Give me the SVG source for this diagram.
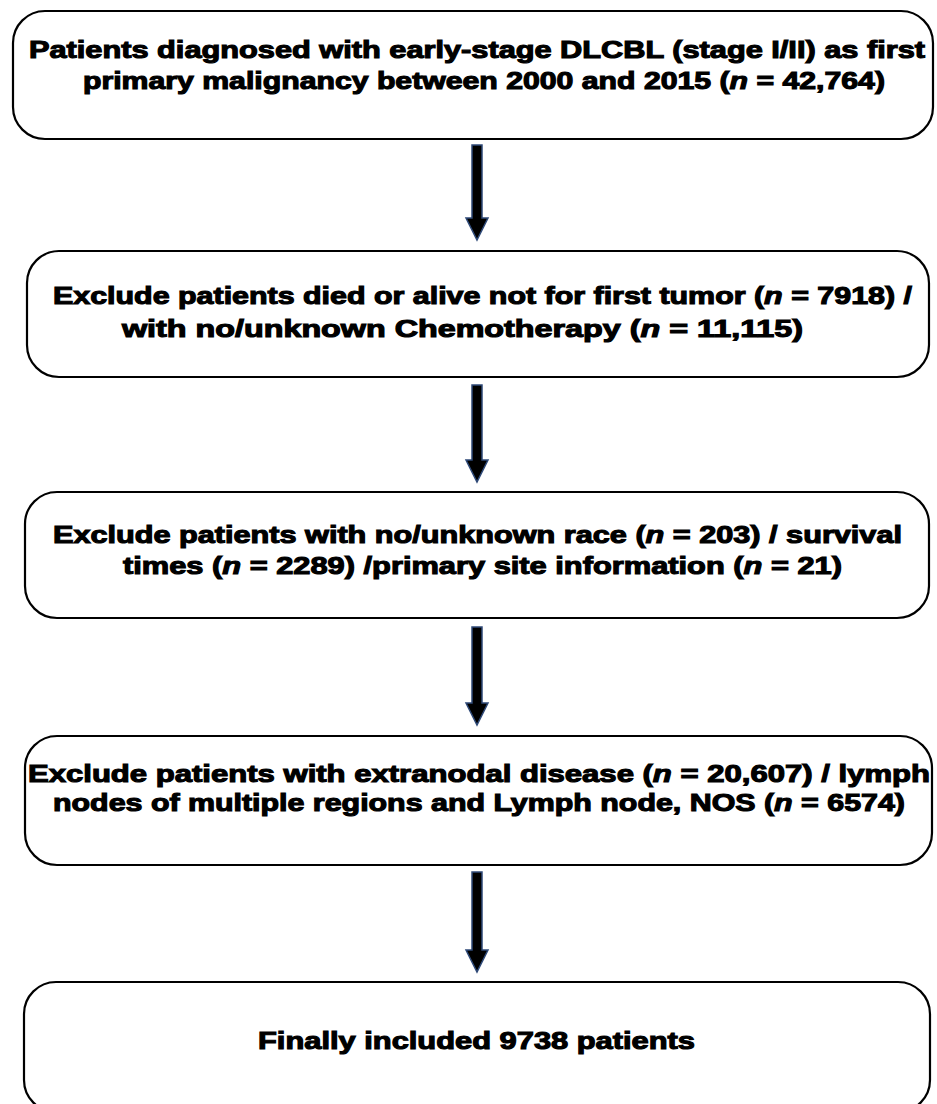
<svg xmlns="http://www.w3.org/2000/svg" width="937" height="1104" viewBox="0 0 937 1104">
<style>
.box{fill:#fff;stroke:#000;stroke-width:2.2}
.t{font-family:"Liberation Sans",Arial,sans-serif;font-weight:bold;font-size:24px;fill:#000;stroke:#000;stroke-width:1.1}
.i{font-style:italic}
.arr{fill:#000;stroke:#2f4a78;stroke-width:1.5;stroke-linejoin:miter}
</style>
<rect width="937" height="1104" fill="#fff"/>
<g id="node1">
<rect class="box" x="13" y="11" width="920" height="128" rx="32" ry="32"/>
<text class="t" x="29" y="58" textLength="896" lengthAdjust="spacingAndGlyphs">Patients diagnosed with early-stage DLCBL (stage I/II) as first</text>
<text class="t" x="83" y="89" textLength="802" lengthAdjust="spacingAndGlyphs">primary malignancy between 2000 and 2015 (<tspan class="i">n</tspan> = 42,764)</text>
</g>
<g id="node2">
<rect class="box" x="27" y="251" width="902" height="126" rx="32" ry="32"/>
<text class="t" x="53" y="304" textLength="859" lengthAdjust="spacingAndGlyphs">Exclude patients died or alive not for first tumor (<tspan class="i">n</tspan> = 7918) /</text>
<text class="t" x="122" y="337" textLength="681" lengthAdjust="spacingAndGlyphs">with no/unknown Chemotherapy (<tspan class="i">n</tspan> = 11,115)</text>
</g>
<g id="node3">
<rect class="box" x="25" y="492" width="904" height="126" rx="32" ry="32"/>
<text class="t" x="53" y="543" textLength="849" lengthAdjust="spacingAndGlyphs">Exclude patients with no/unknown race (<tspan class="i">n</tspan> = 203) / survival</text>
<text class="t" x="123" y="574" textLength="719" lengthAdjust="spacingAndGlyphs">times (<tspan class="i">n</tspan> = 2289) /primary site information (<tspan class="i">n</tspan> = 21)</text>
</g>
<g id="node4">
<rect class="box" x="25" y="736" width="907" height="129" rx="32" ry="32"/>
<text class="t" x="28" y="782" textLength="902" lengthAdjust="spacingAndGlyphs">Exclude patients with extranodal disease (<tspan class="i">n</tspan> = 20,607) / lymph</text>
<text class="t" x="53" y="811" textLength="852" lengthAdjust="spacingAndGlyphs">nodes of multiple regions and Lymph node, NOS (<tspan class="i">n</tspan> = 6574)</text>
</g>
<g id="node5">
<rect class="box" x="24" y="982" width="906" height="130" rx="32" ry="32"/>
<text class="t" x="258" y="1049" textLength="437" lengthAdjust="spacingAndGlyphs">Finally included 9738 patients</text>
</g>
<g id="connectors">
<polygon class="arr" points="472,145 482,145 482,218 488,218 477,240 466,218 472,218"/>
<polygon class="arr" points="472,385 482,385 482,460 488,460 477,482 466,460 472,460"/>
<polygon class="arr" points="472,627 482,627 482,703 488,703 477,725 466,703 472,703"/>
<polygon class="arr" points="472,872 482,872 482,950 488,950 477,972 466,950 472,950"/>
</g>
</svg>
